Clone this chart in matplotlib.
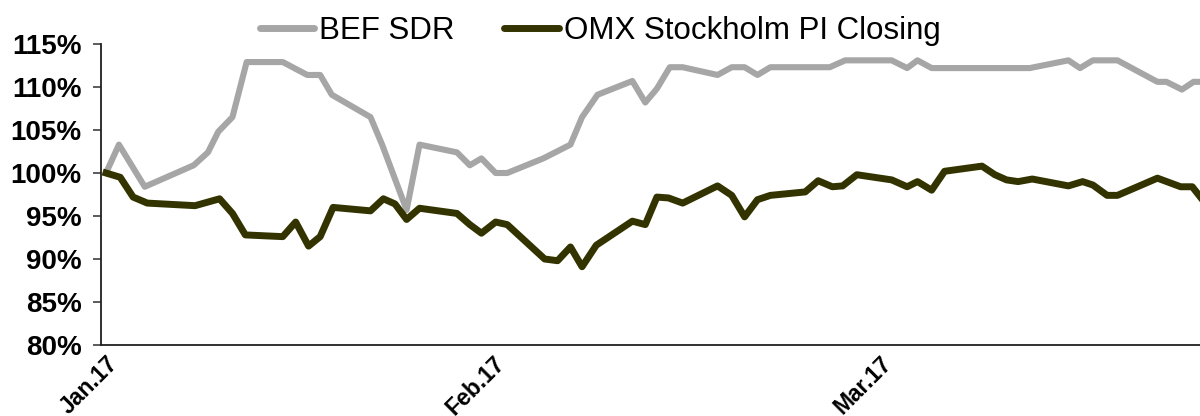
import numpy as np
import matplotlib
matplotlib.use("Agg")
import matplotlib.pyplot as plt
from matplotlib.ticker import FuncFormatter

plt.rcParams['font.family'] = ['Liberation Sans', 'DejaVu Sans']

# x = trading-day position (0 = Jan.17 label, 30 = Feb.17, 60 = Mar.17)
bef_x = [0, 1.0, 3.0, 6.8, 7.9, 8.7, 9.8, 10.9, 13.7, 15.6, 16.6, 17.5, 20.5, 21.4,
         23.3, 24.3, 27.2, 28.2, 29.1, 30.2, 31.1, 33.9, 36.0, 36.9, 38.1, 40.8,
         41.8, 42.7, 43.7, 44.7, 47.4, 48.5, 49.5, 50.5, 51.5, 56.1, 57.3, 60.9,
         62.1, 62.9, 64.0, 71.6, 74.6, 75.5, 76.5, 78.4, 81.5, 82.2, 83.4, 84.3, 85.6]
bef_y = [100.0, 103.3, 98.4, 100.9, 102.4, 104.8, 106.5, 112.9, 112.9, 111.4, 111.4,
         109.1, 106.5, 103.3, 95.7, 103.3, 102.4, 100.9, 101.7, 100.0, 100.0, 101.7,
         103.3, 106.5, 109.1, 110.7, 108.2, 109.8, 112.3, 112.3, 111.4, 112.3, 112.3,
         111.4, 112.3, 112.3, 113.1, 113.1, 112.2, 113.1, 112.2, 112.2, 113.1, 112.2,
         113.1, 113.1, 110.6, 110.6, 109.7, 110.6, 110.6]

omx_x = [0, 1.1, 2.1, 3.2, 6.9, 8.8, 9.8, 10.8, 13.7, 14.7, 15.7, 16.6, 17.6, 20.5,
         21.5, 22.4, 23.3, 24.3, 27.2, 28.2, 29.1, 30.2, 31.1, 34.0, 35.0, 36.0,
         36.9, 38.0, 40.8, 41.8, 42.7, 43.6, 44.7, 47.4, 48.5, 49.5, 50.5, 51.5,
         54.2, 55.2, 56.3, 57.1, 58.2, 60.9, 62.1, 62.9, 64.0, 65.0, 67.9, 68.9,
         69.8, 70.7, 71.8, 74.6, 75.7, 76.5, 77.6, 78.4, 81.5, 83.3, 84.2, 85.2]
omx_y = [100.0, 99.5, 97.2, 96.5, 96.2, 97.0, 95.3, 92.8, 92.6, 94.3, 91.5, 92.6,
         96.0, 95.6, 97.0, 96.4, 94.6, 95.9, 95.3, 94.0, 93.0, 94.3, 94.0, 90.0,
         89.8, 91.4, 89.1, 91.6, 94.4, 94.0, 97.2, 97.1, 96.5, 98.5, 97.4, 94.9,
         96.9, 97.4, 97.8, 99.1, 98.4, 98.5, 99.8, 99.2, 98.4, 99.0, 98.0, 100.2,
         100.8, 99.8, 99.2, 99.0, 99.3, 98.5, 99.0, 98.6, 97.4, 97.4, 99.4, 98.4,
         98.4, 96.5]

tick_pos = [0, 30, 60]
tick_labels = ["Jan.17", "Feb.17", "Mar.17"]

fig = plt.figure(figsize=(12, 4.16), dpi=100)
ax = fig.add_axes([101 / 1200, 1 - 345 / 416, 1 - 101 / 1200, (345 - 44) / 416])

ax.plot(bef_x, np.array(bef_y) / 100, color="#A6A6A6", lw=4.4,
        solid_joinstyle="round", label="BEF SDR")
ax.plot(omx_x, np.array(omx_y) / 100, color="#333300", lw=5.0,
        solid_joinstyle="round", label="OMX Stockholm PI Closing")

ax.set_xlim(-0.39, 84.8)
ax.set_ylim(0.80, 1.15)
ax.set_yticks(np.arange(0.80, 1.151, 0.05))
ax.yaxis.set_major_formatter(FuncFormatter(lambda v, p: f"{v * 100:.0f}%"))
for lbl in ax.get_yticklabels():
    lbl.set_fontweight("bold")
    lbl.set_fontsize(20)
ax.tick_params(axis="y", length=6, width=1.2, color="#404040", pad=8)

ax.set_xticks(tick_pos)
ax.set_xticklabels(tick_labels, rotation=45, ha="right", va="top",
                   rotation_mode="anchor", fontsize=16.5, fontweight="bold")
ax.tick_params(axis="x", length=0, pad=5)

for s in ["top", "right"]:
    ax.spines[s].set_visible(False)
for s in ["left", "bottom"]:
    ax.spines[s].set_linewidth(1.3)
    ax.spines[s].set_color("#202020")

leg = fig.legend(loc="center", bbox_to_anchor=(0.5, 1 - 31 / 416), ncol=2,
                 frameon=False, fontsize=22.5, handlelength=1.75,
                 handletextpad=0.15, columnspacing=1.6)
for h in leg.get_lines():
    h.set_solid_capstyle("round")
    h.set_linewidth(5)

fig.savefig("out.png", dpi=100)
